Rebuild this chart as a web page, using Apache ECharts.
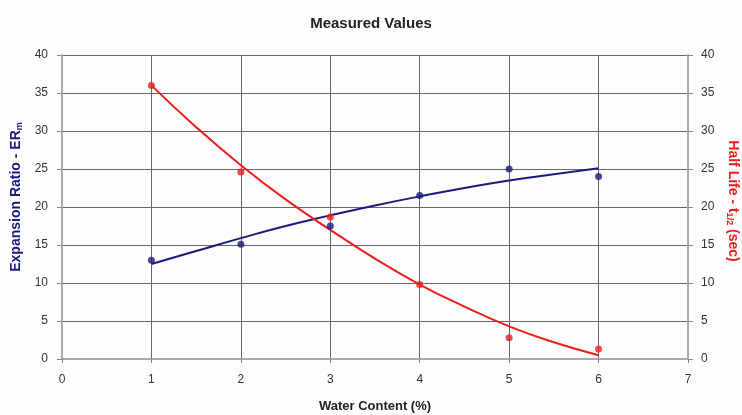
<!DOCTYPE html>
<html><head><meta charset="utf-8">
<script src="https://cdn.jsdelivr.net/npm/echarts@6/dist/echarts.min.js"></script>
<style>html,body{margin:0;padding:0;background:#fdfdfd}#c{width:742px;height:415px}</style>
</head><body><div id="c"></div>
<script>
// Measured points
const waterContent = [1, 2, 3, 4, 5, 6];
const expansionRatio = [13, 15.1, 17.5, 21.5, 25, 24];
const halfLife = [36, 24.6, 18.7, 9.8, 2.8, 1.3];
// Trend lines
const trendX = [1, 1.5, 2, 2.5, 3, 3.5, 4, 4.5, 5, 5.5, 6];
const erTrend = [12.5, 14.2, 15.9, 17.5, 18.9, 20.2, 21.4, 22.5, 23.5, 24.3, 25.1];
const hlTrend = [36, 30.5, 25.5, 21, 17, 13.2, 9.8, 6.9, 4.3, 2.2, 0.5];
const xTicks = [0, 1, 2, 3, 4, 5, 6, 7];
const yTicks = [0, 5, 10, 15, 20, 25, 30, 35, 40];

const zip = (xs, ys) => xs.map((x, i) => [x, ys[i]]);
const FONT = 'Liberation Sans';
const BLUE = '#1a1a80', RED = '#ee1c1c';

const chart = echarts.init(document.getElementById('c'), null, {renderer: 'canvas'});
const axisLabel = {color: '#333', fontSize: 12, fontFamily: FONT};
chart.setOption({
  backgroundColor: '#fdfdfd',
  animation: false,
  title: {text: 'Measured Values', left: 'center', top: 11,
    textStyle: {fontSize: 15, fontWeight: 'bold', color: '#222', fontFamily: FONT}},
  grid: {left: 62, right: 54, top: 55, bottom: 56, containLabel: false, outerBoundsMode: 'none'},
  xAxis: {
    type: 'value', min: xTicks[0], max: xTicks[xTicks.length - 1], interval: 1,
    name: 'Water Content (%)', nameLocation: 'middle', nameGap: 41,
    nameTextStyle: {fontSize: 13, fontWeight: 'bold', color: '#222', fontFamily: FONT},
    axisLine: {lineStyle: {color: '#aaa', width: 2}},
    axisTick: {show: true, length: 4, lineStyle: {color: '#888'}},
    axisLabel: Object.assign({margin: 15}, axisLabel),
    splitLine: {show: true, lineStyle: {color: '#666', width: 1}}
  },
  yAxis: [{
    type: 'value', min: yTicks[0], max: yTicks[yTicks.length - 1], interval: 5,
    name: '{a|Expansion Ratio - ER}{s|m}', nameLocation: 'middle', nameGap: 38,
    nameTextStyle: {padding: [0, 0, 0, 20], rich: {
      a: {fontSize: 14, fontWeight: 'bold', color: BLUE, fontFamily: FONT},
      s: {fontSize: 9, fontWeight: 'bold', color: BLUE, fontFamily: FONT, verticalAlign: 'bottom', padding: [7, 0, 0, 0]}
    }},
    axisLine: {show: true, lineStyle: {color: '#aaa', width: 2}},
    axisTick: {show: true, length: 5, lineStyle: {color: '#888'}},
    axisLabel: Object.assign({margin: 14}, axisLabel),
    splitLine: {show: true, lineStyle: {color: '#666', width: 1}}
  }, {
    type: 'value', position: 'right', min: yTicks[0], max: yTicks[yTicks.length - 1], interval: 5,
    name: '{a|Half Life - t}{s|1/2}{a| (sec)}', nameLocation: 'middle', nameGap: 34, nameRotate: -90,
    nameTextStyle: {padding: [0, 12, 0, 0], rich: {
      a: {fontSize: 14, fontWeight: 'bold', color: RED, fontFamily: FONT},
      s: {fontSize: 9, fontWeight: 'bold', color: RED, fontFamily: FONT, verticalAlign: 'bottom', padding: [7, 0, 0, 0]}
    }},
    axisLine: {show: true, lineStyle: {color: '#aaa', width: 2}},
    axisTick: {show: true, length: 5, lineStyle: {color: '#888'}},
    axisLabel: Object.assign({margin: 13}, axisLabel),
    splitLine: {show: false}
  }],
  series: [
    {type: 'line', yAxisIndex: 0, data: zip(trendX, erTrend), smooth: true, showSymbol: false,
      lineStyle: {color: BLUE, width: 2}, z: 3},
    {type: 'line', yAxisIndex: 1, data: zip(trendX, hlTrend), smooth: true, showSymbol: false,
      lineStyle: {color: RED, width: 2}, z: 3},
    {type: 'scatter', yAxisIndex: 0, data: zip(waterContent, expansionRatio), symbol: 'circle', symbolSize: 7,
      itemStyle: {color: BLUE}, z: 4},
    {type: 'scatter', yAxisIndex: 1, data: zip(waterContent, halfLife), symbol: 'circle', symbolSize: 7,
      itemStyle: {color: RED}, z: 4}
  ]
});
</script></body></html>
